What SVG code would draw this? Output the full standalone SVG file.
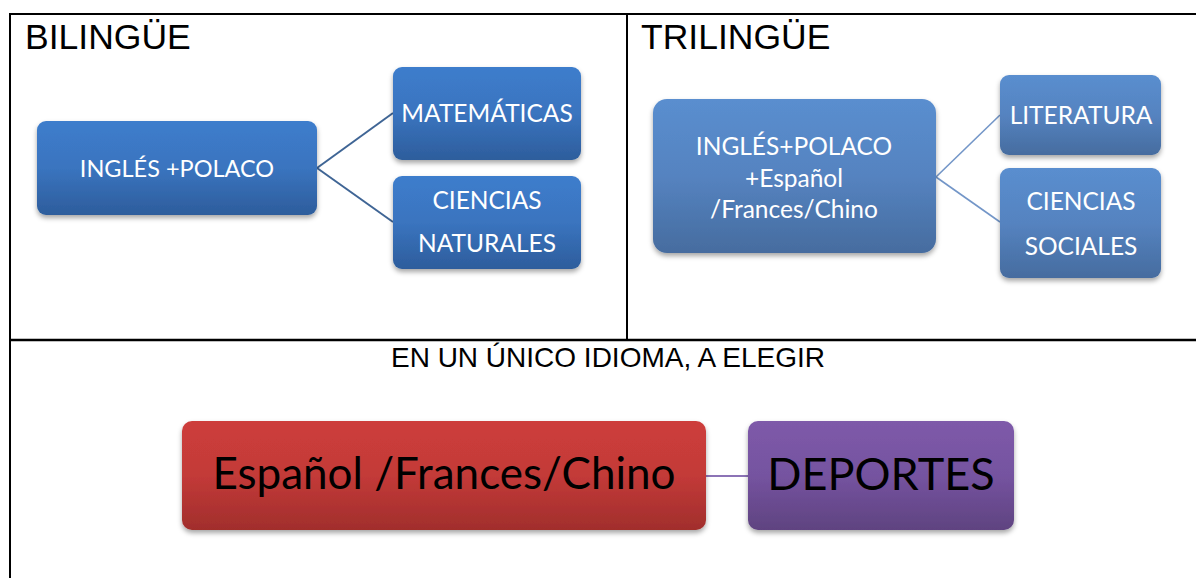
<svg xmlns="http://www.w3.org/2000/svg" width="1196" height="578" viewBox="0 0 1196 578">
<defs>
<linearGradient id="gBlue" x1="0" y1="0" x2="0" y2="1"><stop offset="0" stop-color="#3d7dcc"/><stop offset="0.5" stop-color="#3a74bf"/><stop offset="1" stop-color="#2d5d9c"/></linearGradient>
<linearGradient id="gBlue2" x1="0" y1="0" x2="0" y2="1"><stop offset="0" stop-color="#5a8ecf"/><stop offset="0.5" stop-color="#5583c0"/><stop offset="1" stop-color="#466c9f"/></linearGradient>
<linearGradient id="gRed" x1="0" y1="0" x2="0" y2="1"><stop offset="0" stop-color="#cd3d3b"/><stop offset="0.5" stop-color="#c33a38"/><stop offset="1" stop-color="#a12e2c"/></linearGradient>
<linearGradient id="gPurple" x1="0" y1="0" x2="0" y2="1"><stop offset="0" stop-color="#7e5aa9"/><stop offset="0.5" stop-color="#7553a0"/><stop offset="1" stop-color="#5f4380"/></linearGradient>
<filter id="sh" x="-10%" y="-10%" width="120%" height="130%"><feDropShadow dx="0" dy="3" stdDeviation="2.5" flood-color="#000" flood-opacity="0.35"/></filter>
</defs>
<style>
.frame{stroke:#000;stroke-width:2;fill:none}
.head{font-family:"Liberation Sans",Arial,sans-serif;fill:#000}
.wt{font-family:Lato,"Open Sans",sans-serif;fill:#fff;text-anchor:middle}
.bk{font-family:Lato,"Open Sans",sans-serif;fill:#000;text-anchor:middle}
.c1{stroke:#3f6595;stroke-width:2;fill:none}
.c2{stroke:#7396c8;stroke-width:1.6;fill:none}
.c3{stroke:#8c73b6;stroke-width:2;fill:none}
</style>
<g id="table">
<line class="frame" x1="10" y1="14" x2="1196" y2="14"/>
<line class="frame" x1="10" y1="13" x2="10" y2="578"/>
<line class="frame" x1="627" y1="14" x2="627" y2="340"/>
<line class="frame" x1="10" y1="340" x2="1196" y2="340" style="stroke-width:2.5"/>
<text class="head" x="25" y="49" font-size="35.5">BILINGÜE</text>
<text class="head" x="641" y="49" font-size="35.5">TRILINGÜE</text>
<text class="head" x="608" y="367" font-size="28" text-anchor="middle">EN UN ÚNICO IDIOMA, A ELEGIR</text>
</g>
<g id="connectors">
<line class="c1" x1="317" y1="168" x2="393" y2="113"/>
<line class="c1" x1="317" y1="168" x2="393" y2="222"/>
<line class="c2" x1="936" y1="177" x2="1000" y2="115"/>
<line class="c2" x1="936" y1="177" x2="1000" y2="222"/>
<line class="c3" x1="706" y1="476" x2="748" y2="476"/>
</g>
<g id="node-ingles-polaco">
<rect x="37" y="121" width="280" height="94" rx="9" fill="url(#gBlue)" filter="url(#sh)"/>
<text class="wt" x="177" y="177" font-size="23.5">INGLÉS +POLACO</text>
</g>
<g id="node-matematicas">
<rect x="393" y="67" width="188" height="93" rx="9" fill="url(#gBlue)" filter="url(#sh)"/>
<text class="wt" x="487" y="122" font-size="24.5">MATEMÁTICAS</text>
</g>
<g id="node-ciencias-naturales">
<rect x="393" y="176" width="188" height="93" rx="9" fill="url(#gBlue)" filter="url(#sh)"/>
<text class="wt" x="487" y="209" font-size="24.5">CIENCIAS</text>
<text class="wt" x="487" y="252" font-size="24.5">NATURALES</text>
</g>
<g id="node-trilingue">
<rect x="653" y="99" width="283" height="154" rx="14" fill="url(#gBlue2)" filter="url(#sh)"/>
<text class="wt" x="794" y="155" font-size="24.5">INGLÉS+POLACO</text>
<text class="wt" x="794" y="187" font-size="24.5">+Español</text>
<text class="wt" x="794" y="218" font-size="24.5">/Frances/Chino</text>
</g>
<g id="node-literatura">
<rect x="1000" y="75" width="161" height="80" rx="9" fill="url(#gBlue2)" filter="url(#sh)"/>
<text class="wt" x="1081" y="124" font-size="24.5">LITERATURA</text>
</g>
<g id="node-ciencias-sociales">
<rect x="1000" y="168" width="161" height="110" rx="9" fill="url(#gBlue2)" filter="url(#sh)"/>
<text class="wt" x="1081" y="210" font-size="24.5">CIENCIAS</text>
<text class="wt" x="1081" y="255" font-size="24.5">SOCIALES</text>
</g>
<g id="node-espanol">
<rect x="182" y="421" width="524" height="109" rx="10" fill="url(#gRed)" filter="url(#sh)"/>
<text class="bk" x="444" y="489" font-size="44">Español /Frances/Chino</text>
</g>
<g id="node-deportes">
<rect x="748" y="421" width="266" height="109" rx="10" fill="url(#gPurple)" filter="url(#sh)"/>
<text class="bk" x="881" y="490" font-size="45">DEPORTES</text>
</g>
</svg>
